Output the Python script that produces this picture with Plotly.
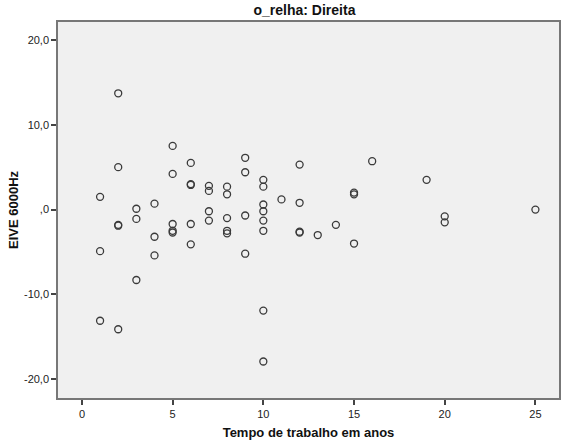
import plotly.graph_objects as go

# Tempo de trabalho em anos
tempo = [1, 1, 1,
         2, 2, 2, 2, 2,
         3, 3, 3,
         4, 4, 4,
         5, 5, 5, 5, 5,
         6, 6, 6, 6, 6,
         7, 7, 7, 7,
         8, 8, 8, 8, 8,
         9, 9, 9, 9,
         10, 10, 10, 10, 10, 10, 10, 10,
         11,
         12, 12, 12, 12,
         13, 14,
         15, 15, 15,
         16, 19,
         20, 20,
         25]
# EIVE 6000Hz
eive = [1.5, -4.9, -13.1,
        13.7, 5.0, -1.8, -1.9, -14.1,
        0.1, -1.1, -8.3,
        0.7, -3.2, -5.4,
        7.5, 4.2, -1.7, -2.5, -2.7,
        5.5, 3.0, 2.9, -1.7, -4.1,
        2.8, 2.2, -0.2, -1.3,
        2.7, 1.8, -1.0, -2.5, -2.8,
        6.1, 4.4, -0.7, -5.2,
        3.5, 2.7, 0.6, -0.2, -1.3, -2.5, -11.9, -17.9,
        1.2,
        5.3, 0.8, -2.6, -2.7,
        -3.0, -1.8,
        2.0, 1.8, -4.0,
        5.7, 3.5,
        -0.8, -1.5,
        0.0]

x_ticks = [0, 5, 10, 15, 20, 25]
y_ticks = [20, 10, 0, -10, -20]
y_tick_labels = ["20,0", "10,0", ",0", "-10,0", "-20,0"]

fig = go.Figure()
fig.add_trace(go.Scatter(
    x=tempo, y=eive, mode="markers",
    marker=dict(symbol="circle-open", size=7, color="#3a3a3a",
                line=dict(width=1.3, color="#3a3a3a")),
    showlegend=False, hoverinfo="x+y"))

axis_font = dict(family="Liberation Sans, Arial, sans-serif", size=11, color="#222")
fig.update_layout(
    width=563, height=445,
    margin=dict(l=58, r=2, t=22, b=47),
    paper_bgcolor="white",
    plot_bgcolor="#F0F0F0",
    title=dict(text="<b>o_relha: Direita</b>", xref="paper", x=0.492, xanchor="center",
               yref="container", y=0.978, yanchor="middle",
               font=dict(family="Liberation Sans, Arial", size=14, color="#111")),
    xaxis=dict(range=[-1.32, 26.3], tickvals=x_ticks, ticks="outside", ticklen=5,
               tickcolor="#444", tickwidth=1.5,
               showgrid=False, zeroline=False, showline=True, mirror=True,
               linecolor="#777", linewidth=1.5, tickfont=axis_font,
               title=dict(text="<b>Tempo de trabalho em anos</b>", standoff=9,
                          font=dict(family="Liberation Sans, Arial", size=13, color="#111"))),
    yaxis=dict(range=[-22.2, 22.1], tickvals=y_ticks, ticktext=y_tick_labels,
               ticks="outside", ticklen=5, tickcolor="#444", tickwidth=1.5,
               showgrid=False, zeroline=False, showline=True, mirror=True,
               linecolor="#777", linewidth=1.5, tickfont=axis_font,
               title=dict(text="<b>EIVE 6000Hz</b>", standoff=2,
                          font=dict(family="Liberation Sans, Arial", size=13, color="#111"))),
)

fig.write_html("out.html")
